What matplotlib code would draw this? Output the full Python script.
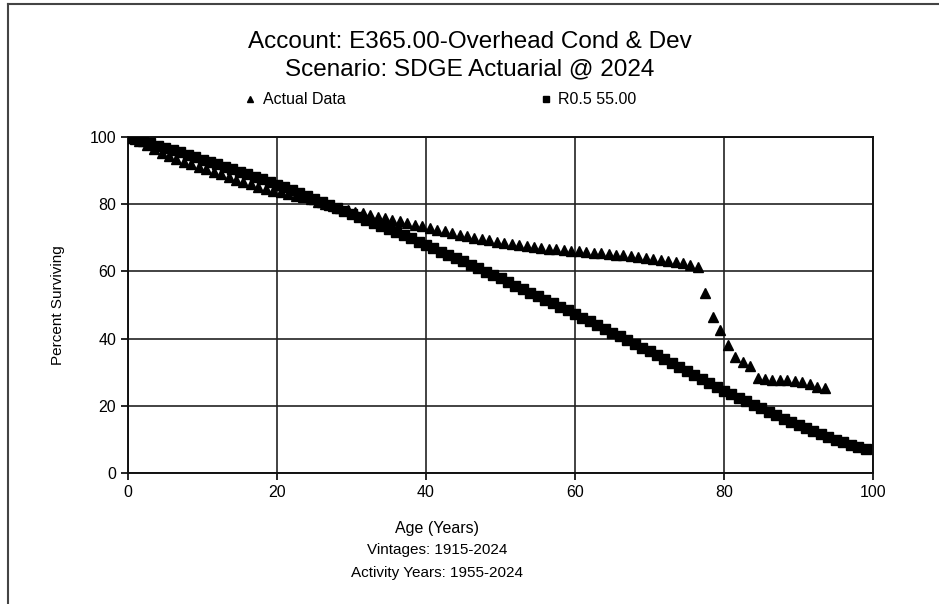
# Survivor curve: actual data vs. Iowa R0.5 55.00 fitted curve
import matplotlib.pyplot as plt
from matplotlib.lines import Line2D

plt.rcParams['font.family'] = ['Liberation Sans', 'DejaVu Sans']

# Actual data (age, percent surviving)
actual_age = [0] + [a + 0.5 for a in range(94)]
actual_pct = [
    100.0, 99.6, 98.7, 97.6, 96.4, 95.3, 94.3, 93.4, 92.6, 91.9,
    91.2, 90.5, 89.7, 88.9, 88.1, 87.3, 86.6, 85.9, 85.2, 84.6,
    84.0, 83.5, 83.0, 82.5, 82.0, 81.4, 80.8, 80.2, 79.5, 78.9,
    78.3, 77.8, 77.3, 76.8, 76.3, 75.8, 75.4, 74.9, 74.4, 73.9,
    73.4, 72.9, 72.4, 71.9, 71.4, 70.9, 70.4, 70.0, 69.6, 69.2,
    68.8, 68.5, 68.2, 67.9, 67.6, 67.3, 67.0, 66.8, 66.6, 66.4,
    66.2, 66.0, 65.8, 65.6, 65.4, 65.2, 65.0, 64.8, 64.5, 64.2,
    64.0, 63.7, 63.4, 63.1, 62.8, 62.5, 62.0, 61.3, 53.6, 46.4,
    42.6, 38.0, 34.6, 33.0, 31.8, 28.3, 28.0, 27.8, 27.7, 27.6,
    27.4, 27.0, 26.5, 25.7, 25.4,
]

# Fitted R0.5 55.00 curve
curve_age = list(range(100))
curve_pct = [
    100.0, 99.4, 98.7, 98.1, 97.4, 96.8, 96.1, 95.4, 94.7, 94.0,
    93.3, 92.6, 91.9, 91.2, 90.4, 89.7, 88.9, 88.1, 87.4, 86.6,
    85.8, 85.0, 84.2, 83.3, 82.5, 81.6, 80.7, 79.9, 79.0, 78.1,
    77.2, 76.3, 75.4, 74.5, 73.5, 72.6, 71.7, 70.7, 69.8, 68.8,
    67.9, 66.9, 65.9, 65.0, 64.0, 63.0, 62.0, 61.0, 59.9, 58.9,
    57.9, 56.8, 55.8, 54.7, 53.7, 52.6, 51.5, 50.5, 49.4, 48.4,
    47.3, 46.2, 45.1, 44.0, 42.9, 41.8, 40.7, 39.6, 38.5, 37.3,
    36.2, 35.1, 33.9, 32.8, 31.6, 30.5, 29.3, 28.1, 26.9, 25.7,
    24.5, 23.4, 22.3, 21.3, 20.2, 19.2, 18.2, 17.2, 16.2, 15.2,
    14.2, 13.3, 12.4, 11.5, 10.6, 9.8, 9.1, 8.4, 7.7, 7.0,
]

ticks = [0, 20, 40, 60, 80, 100]

fig = plt.figure(figsize=(9.39, 6.04), dpi=100)
ax = fig.add_axes([128 / 939, 1 - 473 / 604, 745 / 939, 336 / 604])

ax.plot(actual_age, actual_pct, linestyle='none', marker='^', color='black',
        markersize=7, label='Actual Data', zorder=3)
ax.plot(curve_age, curve_pct, linestyle='none', marker='s', color='black',
        markersize=6.5, label='R0.5 55.00', zorder=3)

ax.set_xlim(0, 100)
ax.set_ylim(0, 100)
ax.set_xticks(ticks)
ax.set_yticks(ticks)
ax.tick_params(labelsize=11.5, length=5, width=1.2, direction='out')
ax.grid(True, color='#222222', linewidth=1.2)
for s in ax.spines.values():
    s.set_linewidth(1.4)
    s.set_color('#111111')

ax.set_ylabel('Percent Surviving', fontsize=11, labelpad=18)

# titles and legend
fig.text(470 / 939, 1 - 42 / 604, 'Account: E365.00-Overhead Cond & Dev',
         ha='center', va='center', fontsize=17.5)
fig.text(470 / 939, 1 - 69 / 604, 'Scenario: SDGE Actuarial @ 2024',
         ha='center', va='center', fontsize=17.5)
ax.legend(loc='center left', bbox_to_anchor=(228 / 939, 1 - 100 / 604),
          bbox_transform=fig.transFigure, ncol=2, frameon=False,
          fontsize=11.5, handletextpad=0.3, columnspacing=12,
          handlelength=1, markerscale=0.7)

# axis title lines under the chart
fig.text(437 / 939, 1 - 528 / 604, 'Age (Years)', ha='center', va='center', fontsize=11.5)
fig.text(437 / 939, 1 - 550 / 604, 'Vintages: 1915-2024', ha='center', va='center', fontsize=11)
fig.text(437 / 939, 1 - 573 / 604, 'Activity Years: 1955-2024', ha='center', va='center', fontsize=11)

# frame lines of the screenshot (top and left only)
fig.add_artist(Line2D([8 / 939, 1], [1 - 4 / 604, 1 - 4 / 604],
                      transform=fig.transFigure, color='#444444', linewidth=1.5))
fig.add_artist(Line2D([8 / 939, 8 / 939], [0, 1 - 4 / 604],
                      transform=fig.transFigure, color='#444444', linewidth=1.5))

fig.savefig('out.png', dpi=100)
